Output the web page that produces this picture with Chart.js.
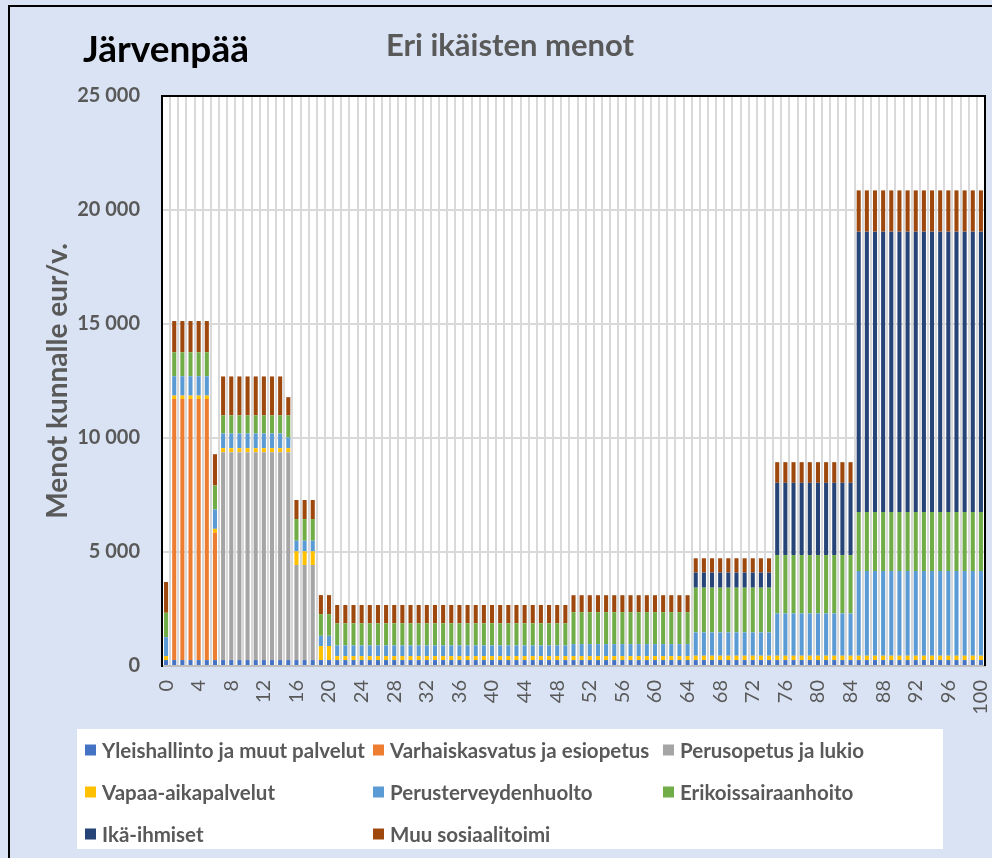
<!DOCTYPE html>
<html>
<head>
<meta charset="utf-8">
<script src="https://cdn.jsdelivr.net/npm/chart.js@4.4.1/dist/chart.umd.min.js"></script>
<style>
html,body{margin:0;padding:0;background:#dae3f3;}
canvas{display:block;}
</style>
</head>
<body>
<canvas id="c" width="992" height="858"></canvas>
<script>
// ---- DATA ----
const ages = [0,1,2,3,4,5,6,7,8,9,10,11,12,13,14,15,16,17,18,19,20,21,22,23,24,25,26,27,28,29,30,31,32,33,34,35,36,37,38,39,40,41,42,43,44,45,46,47,48,49,50,51,52,53,54,55,56,57,58,59,60,61,62,63,64,65,66,67,68,69,70,71,72,73,74,75,76,77,78,79,80,81,82,83,84,85,86,87,88,89,90,91,92,93,94,95,96,97,98,99,100];
const shownTicks = [0,4,8,12,16,20,24,28,32,36,40,44,48,52,56,60,64,68,72,76,80,84,88,92,96,100];
const yTicks = [0,5000,10000,15000,20000,25000];

const seriesNames = ["Yleishallinto ja muut palvelut","Varhaiskasvatus ja esiopetus","Perusopetus ja lukio","Vapaa-aikapalvelut","Perusterveydenhuolto","Erikoissairaanhoito","Ikä-ihmiset","Muu sosiaalitoimi"];

const yleishallinto = [
260,260,260,260,260,260,260,260,260,260,
260,260,260,260,260,260,260,260,260,260,
260,260,260,260,260,260,260,260,260,260,
260,260,260,260,260,260,260,260,260,260,
260,260,260,260,260,260,260,260,260,260,
260,260,260,260,260,260,260,260,260,260,
260,260,260,260,260,260,260,260,260,260,
260,260,260,260,260,260,260,260,260,260,
260,260,260,260,260,260,260,260,260,260,
260,260,260,260,260,260,260,260,260,260,
260];
const varhaiskasvatus = [
0,11450,11450,11450,11450,11450,5580,0,0,0,
0,0,0,0,0,0,0,0,0,0,
0,0,0,0,0,0,0,0,0,0,
0,0,0,0,0,0,0,0,0,0,
0,0,0,0,0,0,0,0,0,0,
0,0,0,0,0,0,0,0,0,0,
0,0,0,0,0,0,0,0,0,0,
0,0,0,0,0,0,0,0,0,0,
0,0,0,0,0,0,0,0,0,0,
0,0,0,0,0,0,0,0,0,0,
0];
const perusopetus = [
0,0,0,0,0,0,0,9120,9120,9120,
9120,9120,9120,9120,9120,9120,4170,4170,4170,0,
0,0,0,0,0,0,0,0,0,0,
0,0,0,0,0,0,0,0,0,0,
0,0,0,0,0,0,0,0,0,0,
0,0,0,0,0,0,0,0,0,0,
0,0,0,0,0,0,0,0,0,0,
0,0,0,0,0,0,0,0,0,0,
0,0,0,0,0,0,0,0,0,0,
0,0,0,0,0,0,0,0,0,0,
0];
const vapaaaika = [
175,150,150,150,150,150,175,175,175,175,
175,175,175,175,175,175,600,600,600,615,
615,175,175,175,175,175,175,175,175,175,
175,175,175,175,175,175,175,175,175,175,
175,175,175,175,175,175,175,175,175,175,
175,175,175,175,175,175,175,175,175,175,
175,175,175,175,175,190,190,190,190,190,
190,190,190,190,190,190,190,190,190,190,
190,190,190,190,190,190,190,190,190,190,
190,190,190,190,190,190,190,190,190,190,
190];
const perusterveys = [
830,850,850,850,850,850,850,645,645,645,
645,645,645,645,645,470,465,465,465,450,
450,470,470,470,470,470,470,470,470,470,
470,470,470,470,470,470,470,470,470,470,
470,470,470,470,470,470,470,470,470,470,
525,525,525,525,525,525,525,525,525,525,
525,525,525,525,525,1025,1025,1025,1025,1025,
1025,1025,1025,1025,1025,1855,1855,1855,1855,1855,
1855,1855,1855,1855,1855,3715,3715,3715,3715,3715,
3715,3715,3715,3715,3715,3715,3715,3715,3715,3715,
3715];
const erikoissairaanhoito = [
1070,1050,1050,1050,1050,1050,1050,790,790,790,
790,790,790,790,790,965,950,950,950,950,
950,965,965,965,965,965,965,965,965,965,
965,965,965,965,965,965,965,965,965,965,
965,965,965,965,965,965,965,965,965,965,
1400,1400,1400,1400,1400,1400,1400,1400,1400,1400,
1400,1400,1400,1400,1400,1960,1960,1960,1960,1960,
1960,1960,1960,1960,1960,2560,2560,2560,2560,2560,
2560,2560,2560,2560,2560,2590,2590,2590,2590,2590,
2590,2590,2590,2590,2590,2590,2590,2590,2590,2590,
2590];
const ikaihmiset = [
0,0,0,0,0,0,0,0,0,0,
0,0,0,0,0,0,0,0,0,0,
0,0,0,0,0,0,0,0,0,0,
0,0,0,0,0,0,0,0,0,0,
0,0,0,0,0,0,0,0,0,0,
0,0,0,0,0,0,0,0,0,0,
0,0,0,0,0,660,660,660,660,660,
660,660,660,660,660,3170,3170,3170,3170,3170,
3170,3170,3170,3170,3170,12295,12295,12295,12295,12295,
12295,12295,12295,12295,12295,12295,12295,12295,12295,12295,
12295];
const muusosiaali = [
1350,1370,1370,1370,1370,1370,1375,1710,1710,1710,
1710,1710,1710,1710,1710,800,835,835,835,835,
835,805,805,805,805,805,805,805,805,805,
805,805,805,805,805,805,805,805,805,805,
805,805,805,805,805,805,805,805,805,805,
745,745,745,745,745,745,745,745,745,745,
745,745,745,745,745,630,630,630,630,630,
630,630,630,630,630,905,905,905,905,905,
905,905,905,905,905,1810,1810,1810,1810,1810,
1810,1810,1810,1810,1810,1810,1810,1810,1810,1810,
1810];

const seriesColors = ["#4472C4","#ED7D31","#A5A5A5","#FFC000","#5B9BD5","#70AD47","#264478","#9E480E"];
const seriesValues = [yleishallinto, varhaiskasvatus, perusopetus, vapaaaika, perusterveys, erikoissairaanhoito, ikaihmiset, muusosiaali];

// ---- STYLE ----
const FONT = "Lato, 'Open Sans', sans-serif";
const GRAY = "#595959";
const PLOT = {left:162, top:96, right:985, bottom:666};

const decorPlugin = {
  id: 'decor',
  beforeDraw(chart) {
    const ctx = chart.ctx;
    const a = chart.chartArea;
    ctx.save();
    ctx.fillStyle = '#dae3f3';
    ctx.fillRect(0, 0, chart.width, chart.height);
    // outer frame
    ctx.strokeStyle = '#000';
    ctx.lineWidth = 2;
    ctx.beginPath();
    ctx.moveTo(9, 858); ctx.lineTo(9, 6); ctx.lineTo(992, 6);
    ctx.stroke();
    // plot background
    ctx.fillStyle = '#ffffff';
    ctx.fillRect(a.left, a.top, a.right - a.left, a.bottom - a.top);
    ctx.restore();
  },
  afterDraw(chart) {
    const ctx = chart.ctx;
    const a = chart.chartArea;
    ctx.save();
    // plot border top/left/right
    ctx.strokeStyle = '#000';
    ctx.lineWidth = 2;
    ctx.beginPath();
    ctx.moveTo(a.left, a.bottom); ctx.lineTo(a.left, a.top); ctx.lineTo(a.right, a.top); ctx.lineTo(a.right, a.bottom);
    ctx.stroke();
    // titles
    ctx.fillStyle = '#000';
    ctx.font = "bold 37px " + FONT;
    ctx.textBaseline = 'alphabetic';
    ctx.textAlign = 'left';
    ctx.fillText("Järvenpää", 83, 62);
    ctx.fillStyle = GRAY;
    ctx.font = "bold 31px " + FONT;
    ctx.textAlign = 'center';
    ctx.fillText("Eri ikäisten menot", 510, 56);
    // legend box
    ctx.fillStyle = '#ffffff';
    ctx.fillRect(77, 729, 866, 120);
    const colX = [85, 373, 663];
    const rowY = [750, 792, 834];
    ctx.font = "bold 20.5px " + FONT;
    ctx.textAlign = 'left';
    ctx.textBaseline = 'middle';
    chart.data.datasets.forEach((ds, i) => {
      const cx = colX[i % 3], cy = rowY[Math.floor(i / 3)];
      ctx.fillStyle = ds.backgroundColor;
      ctx.fillRect(cx, cy - 5.5, 11, 11);
      ctx.fillStyle = GRAY;
      ctx.fillText(ds.label, cx + 17, cy + 1);
    });
    ctx.restore();
  }
};

const datasets = seriesNames.map((name, i) => ({
  label: name,
  data: seriesValues[i],
  backgroundColor: seriesColors[i],
  borderWidth: 0,
  barPercentage: 0.5,
  categoryPercentage: 1.0
}));

new Chart(document.getElementById('c'), {
  type: 'bar',
  data: { labels: ages, datasets },
  options: {
    responsive: false,
    animation: false,
    devicePixelRatio: 1,
    layout: { padding: { left: 0, top: PLOT.top, right: 992 - PLOT.right, bottom: 0 } },
    plugins: {
      legend: { display: false },
      title: { display: false },
      tooltip: { enabled: false }
    },
    scales: {
      x: {
        stacked: true,
        offset: true,
        afterFit(s) { s.height = 858 - PLOT.bottom; s.paddingLeft = 0; s.paddingRight = 0; },
        grid: { color: '#d9d9d9', lineWidth: 2, offset: true, drawTicks: false },
        border: { color: '#bfbfbf', width: 2 },
        ticks: {
          autoSkip: false,
          minRotation: 90,
          maxRotation: 90,
          padding: 14,
          color: GRAY,
          font: { family: FONT, size: 20 },
          callback(v, idx) { const a = ages[idx]; return shownTicks.includes(a) ? String(a) : ''; }
        }
      },
      y: {
        stacked: true,
        min: 0,
        max: 25000,
        afterFit(s) { s.width = PLOT.left; },
        afterBuildTicks(s) { s.ticks = yTicks.map(v => ({ value: v })); },
        grid: { color: '#d9d9d9', lineWidth: 2, drawTicks: false },
        border: { color: '#000', width: 2 },
        ticks: {
          padding: 22,
          color: GRAY,
          font: { family: FONT, size: 20, weight: 'bold' },
          callback(v) { return String(v).replace(/\B(?=(\d{3})+(?!\d))/g, ' '); }
        },
        title: {
          display: true,
          text: 'Menot kunnalle eur/v.',
          color: GRAY,
          font: { family: FONT, size: 28, weight: 'bold' },
          padding: { top: 41, bottom: 0 }
        }
      }
    }
  },
  plugins: [decorPlugin]
});
</script>
</body>
</html>
